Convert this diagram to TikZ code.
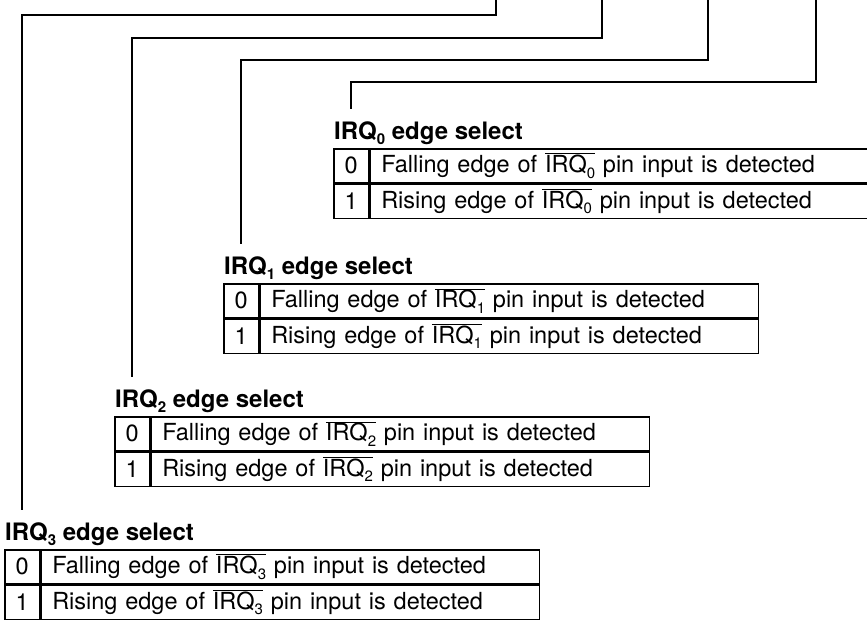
\documentclass[tikz,border=0pt]{standalone}
\usepackage{fontspec}
\setmainfont{TeX Gyre Heros}
\usetikzlibrary{positioning}

\newcommand\irq[1]{IRQ\raisebox{-0.24em}{\fontsize{15}{15}\selectfont #1}}
\newcommand\irqbar[1]{$\overline{\hbox{\irq{#1}}}$}

\begin{document}
\begin{tikzpicture}[x=1pt,y=-1pt,
every node/.style={font=\fontsize{23.5}{28}\selectfont},
wire/.style={line width=1.8pt},
numcell/.style={draw,line width=1.5pt,minimum width=35pt,minimum height=34pt,inner sep=0pt},
txtcell/.style={draw,line width=1.5pt,minimum width=498pt,minimum height=34pt,
  text width=476pt,inner xsep=11pt,inner ysep=0pt,align=left},
title/.style={inner sep=0pt,anchor=base west,font=\bfseries\fontsize{24}{28}\selectfont}]
\useasboundingbox (0,0) rectangle (867,627);

% IRQ0
\node[title] (h0) at (334,139) {\irq{0} edge select};
\node[numcell,anchor=north west] (n0a) at (333,148) {0};
\node[txtcell,right=0pt of n0a] (t0a) {Falling edge of \irqbar{0} pin input is detected};
\node[numcell,below=0pt of n0a] (n0b) {1};
\node[txtcell,right=0pt of n0b] (t0b) {Rising edge of \irqbar{0} pin input is detected};

% IRQ1
\node[title] (h1) at (224,274) {\irq{1} edge select};
\node[numcell,anchor=north west] (n1a) at (223,283) {0};
\node[txtcell,right=0pt of n1a] (t1a) {Falling edge of \irqbar{1} pin input is detected};
\node[numcell,below=0pt of n1a] (n1b) {1};
\node[txtcell,right=0pt of n1b] (t1b) {Rising edge of \irqbar{1} pin input is detected};

% IRQ2
\node[title] (h2) at (115,407) {\irq{2} edge select};
\node[numcell,anchor=north west] (n2a) at (114,416) {0};
\node[txtcell,right=0pt of n2a] (t2a) {Falling edge of \irqbar{2} pin input is detected};
\node[numcell,below=0pt of n2a] (n2b) {1};
\node[txtcell,right=0pt of n2b] (t2b) {Rising edge of \irqbar{2} pin input is detected};

% IRQ3
\node[title] (h3) at (5,540) {\irq{3} edge select};
\node[numcell,anchor=north west] (n3a) at (4,549) {0};
\node[txtcell,right=0pt of n3a] (t3a) {Falling edge of \irqbar{3} pin input is detected};
\node[numcell,below=0pt of n3a] (n3b) {1};
\node[txtcell,right=0pt of n3b] (t3b) {Rising edge of \irqbar{3} pin input is detected};

% leads from the register bits
\coordinate (b0) at (816,0);
\coordinate (k0) at (351,82);
\coordinate (b1) at (708,0);
\coordinate (k1) at (241,60);
\coordinate (b2) at (602,0);
\coordinate (k2) at (132,38);
\coordinate (b3) at (496,0);
\coordinate (k3) at (22,15);
\draw[wire] (b0) |- (k0) -- ([yshift=12pt]h0.north -| k0);
\draw[wire] (b1) |- (k1) -- ([yshift=12pt]h1.north -| k1);
\draw[wire] (b2) |- (k2) -- ([yshift=12pt]h2.north -| k2);
\draw[wire] (b3) |- (k3) -- ([yshift=12pt]h3.north -| k3);
\end{tikzpicture}
\end{document}
